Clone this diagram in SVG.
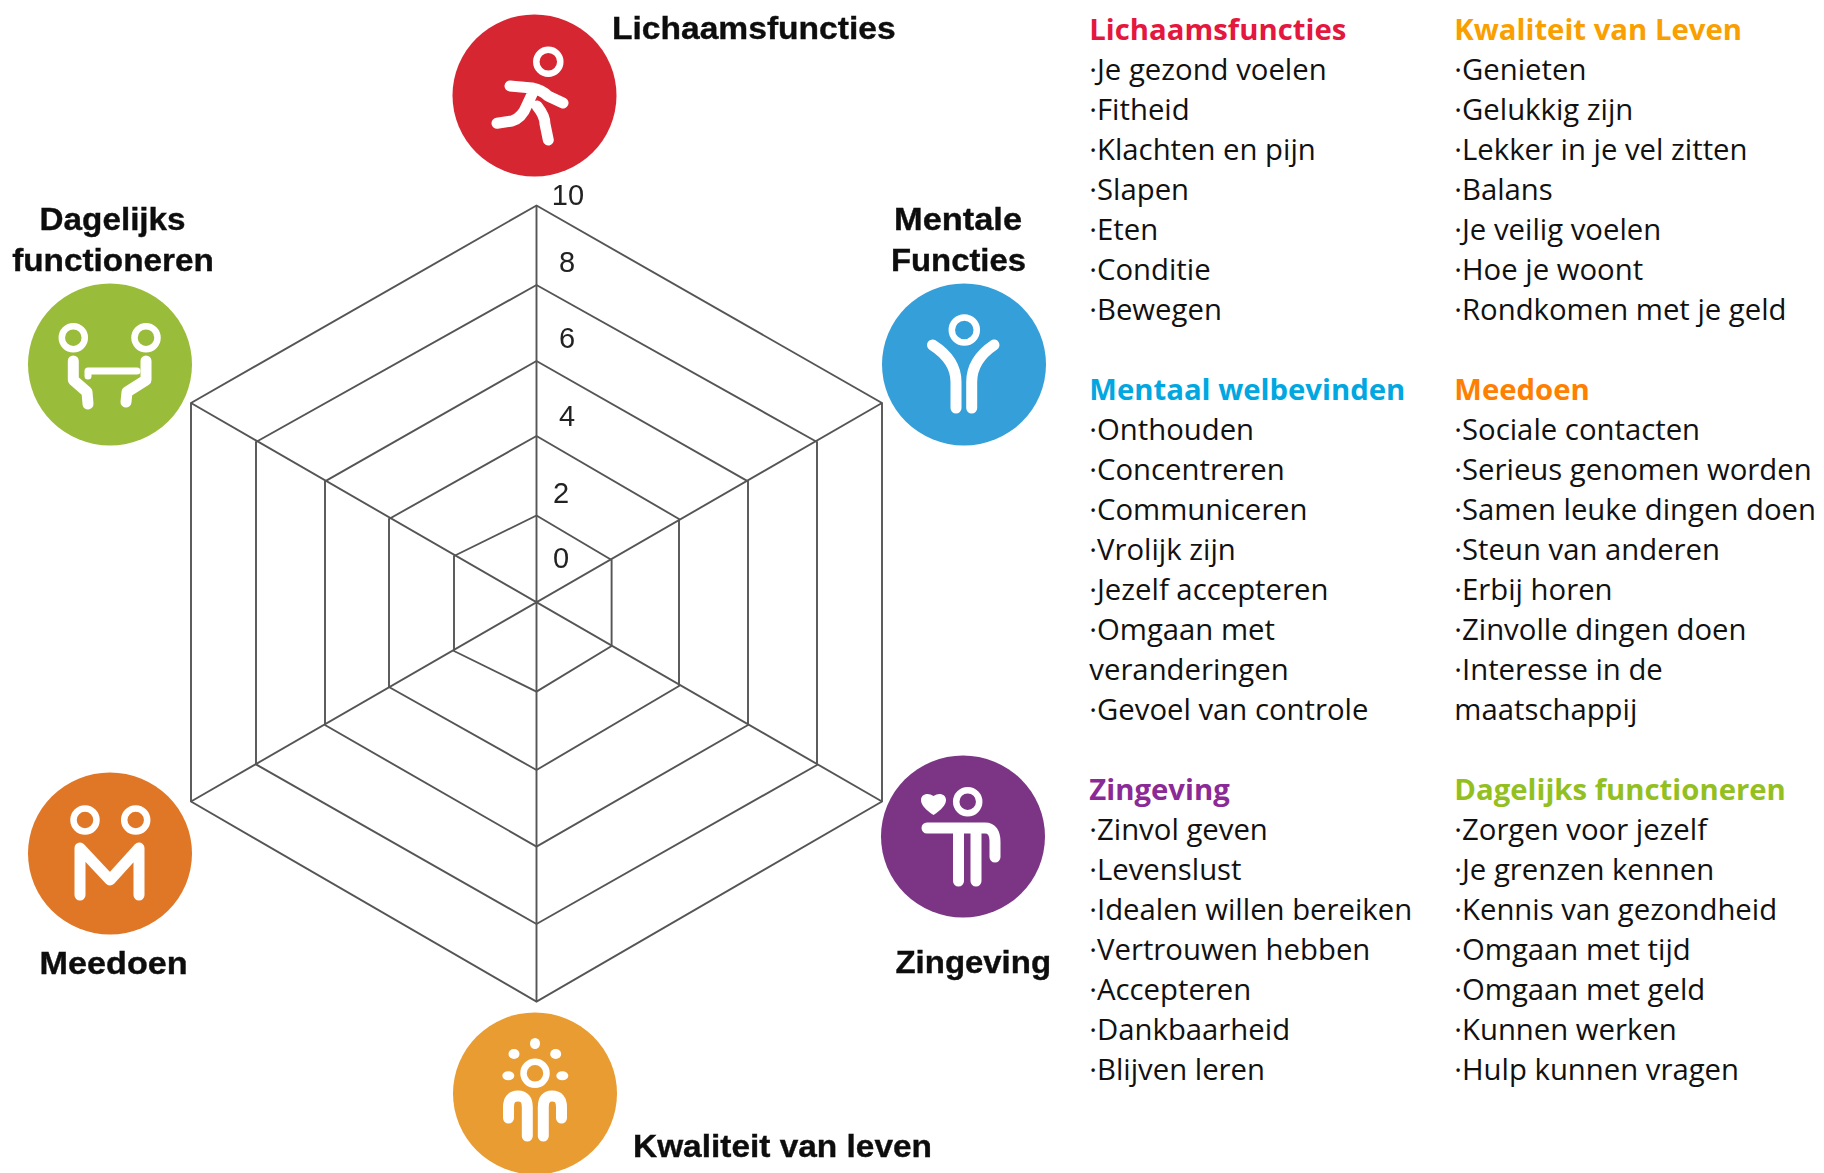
<svg xmlns="http://www.w3.org/2000/svg" width="1824" height="1173" viewBox="0 0 1824 1173">
<style>
.bg{fill:#fff}
.grid{fill:none;stroke:#555;stroke-width:1.9;stroke-linejoin:miter}
.ic{fill:none;stroke:#fff;stroke-linecap:round;stroke-linejoin:round;stroke-width:11}
.hd{fill:none;stroke:#fff;stroke-width:6.5}
.dot{fill:#fff}
.lb{font-family:"Liberation Sans",Arial,sans-serif;font-weight:700;font-size:32px;fill:#111;stroke:#111;stroke-width:.4}
.num{font-family:"Liberation Sans",Arial,sans-serif;font-size:29px;fill:#222}
.t{font-family:"Open Sans","Noto Sans",sans-serif;font-size:29.3px;fill:#111}
.h{font-family:"Open Sans","Noto Sans",sans-serif;font-size:29.3px;font-weight:700}
</style>
<defs><filter id="soft" x="-5%" y="-5%" width="110%" height="110%"><feGaussianBlur stdDeviation="0.6"/></filter></defs>
<rect class="bg" width="1824" height="1173"/>
<g filter="url(#soft)">
<g id="connectors">
<path class="grid" d="M536.5,205.5L882,403V801.5L536.5,1001.6L191,801.5V403Z"/>
<path class="grid" d="M536.5,285L817,442V765L536.5,924L256,764.4V442Z"/>
<path class="grid" d="M536.5,361L748,481.4V725L536.5,846.6L325,725V481.4Z"/>
<path class="grid" d="M536.5,436L679,519V686L536.5,770L389,687V519Z"/>
<path class="grid" d="M536.5,515.5L611.6,560V646L536.5,691.6L454,651V556Z"/>
<path class="grid" d="M536.5,205.5V1001.6M191,403L882,801.5M882,403L191,801.5"/>
</g>
<g id="axis-labels">
<text class="num" x="568" y="205" text-anchor="middle">10</text>
<text class="num" x="567" y="271.5" text-anchor="middle">8</text>
<text class="num" x="567" y="348" text-anchor="middle">6</text>
<text class="num" x="567" y="426" text-anchor="middle">4</text>
<text class="num" x="561" y="503" text-anchor="middle">2</text>
<text class="num" x="561" y="568" text-anchor="middle">0</text>
</g>
<g id="node-lichaamsfuncties">
<ellipse cx="534.5" cy="95.5" rx="82" ry="81" fill="#D62632"/>
<circle class="hd" cx="548.3" cy="61.7" r="12"/>
<path class="ic" d="M510,86L532,88Q542,90 548,96L563,103M497,123.3L512,121Q522,118 527,105L533,92M537,106Q545,116 545,124L548.3,140"/>
<text class="lb" x="612" y="39" textLength="283.6" lengthAdjust="spacingAndGlyphs">Lichaamsfuncties</text>
</g>
<g id="node-mentale-functies">
<ellipse cx="964" cy="364.5" rx="82" ry="81" fill="#369FD9"/>
<circle class="hd" cx="964.3" cy="330" r="12.5"/>
<path class="ic" d="M932.5,345Q956,360 956,382V408M994,345Q971.7,360 971.7,382V408"/>
<text class="lb" x="958" y="229.6" text-anchor="middle" textLength="128" lengthAdjust="spacingAndGlyphs">Mentale</text>
<text class="lb" x="958.5" y="270.6" text-anchor="middle" textLength="135" lengthAdjust="spacingAndGlyphs">Functies</text>
</g>
<g id="node-zingeving">
<ellipse cx="963" cy="836.5" rx="82" ry="81" fill="#7B3585"/>
<circle class="hd" cx="967.7" cy="801.7" r="11.5"/>
<path class="dot" d="M933.5,815C926,810 921,805 921,800C921,794 928,792 933.5,796C939,792 946,794 946,800C946,805 941,810 933.5,815Z"/>
<path class="ic" d="M927,828H985Q995,828 995,842V857M958.5,830V881M976,830V881"/>
<text class="lb" x="895.5" y="973" textLength="155.5" lengthAdjust="spacingAndGlyphs">Zingeving</text>
</g>
<g id="node-kwaliteit-van-leven">
<ellipse cx="535" cy="1093.5" rx="82" ry="81" fill="#E89C32"/>
<circle class="hd" cx="535" cy="1073.3" r="11.5"/>
<ellipse class="dot" cx="535" cy="1043.5" rx="5" ry="5.5"/>
<ellipse class="dot" cx="514" cy="1054" rx="5.5" ry="5"/>
<ellipse class="dot" cx="555.7" cy="1054" rx="5.5" ry="5"/>
<ellipse class="dot" cx="508.3" cy="1075.7" rx="6" ry="4.5"/>
<ellipse class="dot" cx="562.3" cy="1075.7" rx="6" ry="4.5"/>
<path class="ic" d="M508.5,1118V1107Q508.5,1096 518,1096Q527.3,1096 527.3,1107V1136M561.5,1118V1107Q561.5,1096 552,1096Q543.3,1096 543.3,1107V1136"/>
<text class="lb" x="633" y="1157" textLength="299" lengthAdjust="spacingAndGlyphs">Kwaliteit van leven</text>
</g>
<g id="node-meedoen">
<ellipse cx="110" cy="853.5" rx="82" ry="81" fill="#E07726"/>
<circle class="hd" cx="85" cy="820" r="11.5"/>
<circle class="hd" cx="135.7" cy="820" r="11.5"/>
<path class="ic" d="M80,895V848L110,880L139,848V895"/>
<text class="lb" x="113.6" y="973.7" text-anchor="middle" textLength="148" lengthAdjust="spacingAndGlyphs">Meedoen</text>
</g>
<g id="node-dagelijks-functioneren">
<ellipse cx="110" cy="364.5" rx="82" ry="81" fill="#9ABC3A"/>
<circle class="hd" cx="73.3" cy="337.7" r="11.5"/>
<circle class="hd" cx="146" cy="337.7" r="11.5"/>
<path class="ic" d="M73.3,361V380L87,392L88,404M146,361V380L127,392L126,402"/>
<path class="ic" style="stroke-width:7" d="M88,376V371H137"/>
<text class="lb" x="112.6" y="229.6" text-anchor="middle" textLength="146" lengthAdjust="spacingAndGlyphs">Dagelijks</text>
<text class="lb" x="113" y="270.6" text-anchor="middle" textLength="201.6" lengthAdjust="spacingAndGlyphs">functioneren</text>
</g>
</g>
<g id="list-lichaamsfuncties">
<text class="h" x="1089.3" y="40" fill="#E4173E">Lichaamsfuncties</text>
<text class="t" x="1089.3" y="80">·Je gezond voelen</text>
<text class="t" x="1089.3" y="120">·Fitheid</text>
<text class="t" x="1089.3" y="160">·Klachten en pijn</text>
<text class="t" x="1089.3" y="200">·Slapen</text>
<text class="t" x="1089.3" y="240">·Eten</text>
<text class="t" x="1089.3" y="280">·Conditie</text>
<text class="t" x="1089.3" y="320">·Bewegen</text>
</g>
<g id="list-mentaal-welbevinden">
<text class="h" x="1089.3" y="400" fill="#00A7E1">Mentaal welbevinden</text>
<text class="t" x="1089.3" y="440">·Onthouden</text>
<text class="t" x="1089.3" y="480">·Concentreren</text>
<text class="t" x="1089.3" y="520">·Communiceren</text>
<text class="t" x="1089.3" y="560">·Vrolijk zijn</text>
<text class="t" x="1089.3" y="600">·Jezelf accepteren</text>
<text class="t" x="1089.3" y="640">·Omgaan met</text>
<text class="t" x="1089.3" y="680">veranderingen</text>
<text class="t" x="1089.3" y="720">·Gevoel van controle</text>
</g>
<g id="list-zingeving">
<text class="h" x="1089.3" y="800" fill="#8B2A96">Zingeving</text>
<text class="t" x="1089.3" y="840">·Zinvol geven</text>
<text class="t" x="1089.3" y="880">·Levenslust</text>
<text class="t" x="1089.3" y="920">·Idealen willen bereiken</text>
<text class="t" x="1089.3" y="960">·Vertrouwen hebben</text>
<text class="t" x="1089.3" y="1000">·Accepteren</text>
<text class="t" x="1089.3" y="1040">·Dankbaarheid</text>
<text class="t" x="1089.3" y="1080">·Blijven leren</text>
</g>
<g id="list-kwaliteit-van-leven">
<text class="h" x="1454.3" y="40" fill="#F9A000">Kwaliteit van Leven</text>
<text class="t" x="1454.3" y="80">·Genieten</text>
<text class="t" x="1454.3" y="120">·Gelukkig zijn</text>
<text class="t" x="1454.3" y="160">·Lekker in je vel zitten</text>
<text class="t" x="1454.3" y="200">·Balans</text>
<text class="t" x="1454.3" y="240">·Je veilig voelen</text>
<text class="t" x="1454.3" y="280">·Hoe je woont</text>
<text class="t" x="1454.3" y="320">·Rondkomen met je geld</text>
</g>
<g id="list-meedoen">
<text class="h" x="1454.3" y="400" fill="#FF7F00">Meedoen</text>
<text class="t" x="1454.3" y="440">·Sociale contacten</text>
<text class="t" x="1454.3" y="480">·Serieus genomen worden</text>
<text class="t" x="1454.3" y="520">·Samen leuke dingen doen</text>
<text class="t" x="1454.3" y="560">·Steun van anderen</text>
<text class="t" x="1454.3" y="600">·Erbij horen</text>
<text class="t" x="1454.3" y="640">·Zinvolle dingen doen</text>
<text class="t" x="1454.3" y="680">·Interesse in de</text>
<text class="t" x="1454.3" y="720">maatschappij</text>
</g>
<g id="list-dagelijks-functioneren">
<text class="h" x="1454.3" y="800" fill="#93C01F">Dagelijks functioneren</text>
<text class="t" x="1454.3" y="840">·Zorgen voor jezelf</text>
<text class="t" x="1454.3" y="880">·Je grenzen kennen</text>
<text class="t" x="1454.3" y="920">·Kennis van gezondheid</text>
<text class="t" x="1454.3" y="960">·Omgaan met tijd</text>
<text class="t" x="1454.3" y="1000">·Omgaan met geld</text>
<text class="t" x="1454.3" y="1040">·Kunnen werken</text>
<text class="t" x="1454.3" y="1080">·Hulp kunnen vragen</text>
</g>
</svg>
